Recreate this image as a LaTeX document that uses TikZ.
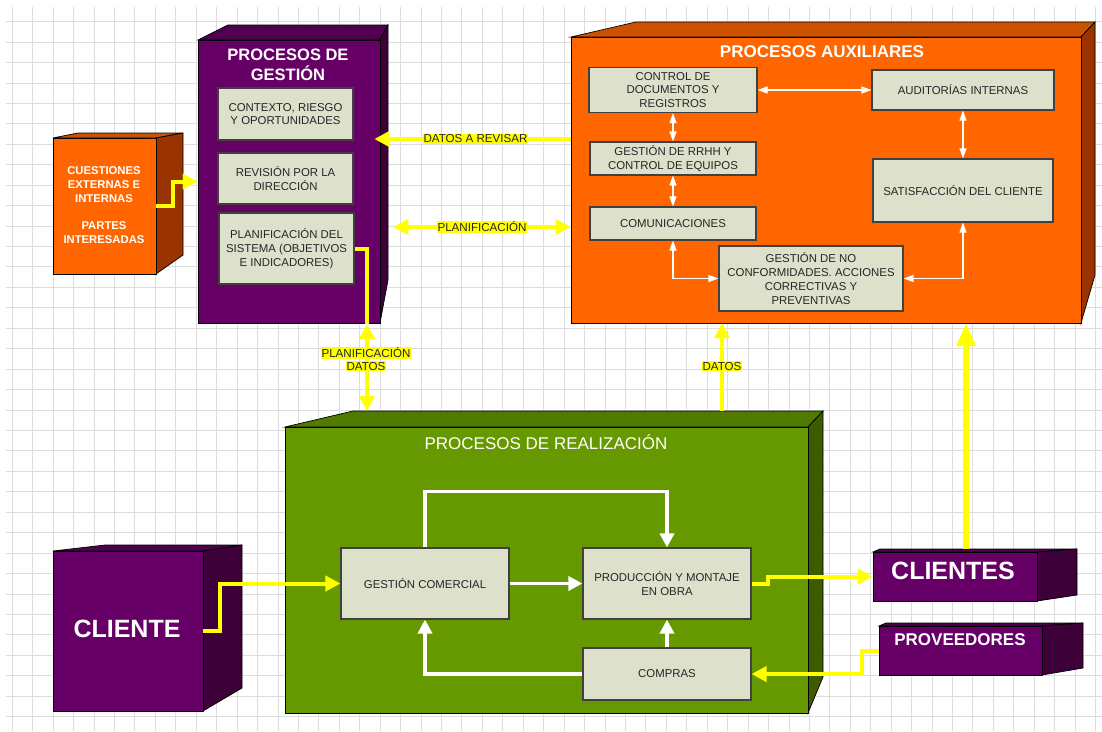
\documentclass[tikz,border=0pt]{standalone}
\usepackage{fontspec}
\setmainfont{Liberation Sans}
\usetikzlibrary{arrows.meta}
\usetikzlibrary{calc}

\definecolor{morado}{HTML}{660066}
\definecolor{moradotop}{HTML}{4F004F}
\definecolor{moradolado}{HTML}{3D0038}
\definecolor{naranja}{HTML}{FF6600}
\definecolor{naranjatop}{HTML}{CC5200}
\definecolor{naranjalado}{HTML}{993300}
\definecolor{verde}{HTML}{669900}
\definecolor{verdetop}{HTML}{507A00}
\definecolor{verdelado}{HTML}{3D5C00}
\definecolor{caja}{HTML}{DDE0CB}
\definecolor{amarillo}{HTML}{FFFF00}
\definecolor{rejilla}{HTML}{DDDDDD}

\tikzset{
  cara/.style={draw=black, line width=0.7pt},
  frente/.style={cara, rectangle, inner sep=0pt},
  proceso/.style={draw=black!75, line width=1.1pt, fill=caja, text=black!85, align=center,
    inner sep=1pt, font=\fontsize{11.4}{13.8}\selectfont},
  titulo/.style={text=white, align=center, font=\bfseries\fontsize{16.5}{20}\selectfont},
  amarilla/.style={draw=amarillo, line width=4pt},
  flecha/.style={amarilla, -{Triangle[length=15pt,width=15pt]}},
  flechadoble/.style={amarilla, {Triangle[length=15pt,width=15pt]}-{Triangle[length=15pt,width=15pt]}},
  blanca/.style={draw=white, line width=3.5pt, -{Triangle[length=14pt,width=14pt]}},
  finita/.style={draw=white, line width=1.2pt, {Triangle[length=10pt,width=7pt]}-{Triangle[length=10pt,width=7pt]}},
  etiqueta/.style={fill=amarillo, text=black!85, inner sep=0.8pt, font=\fontsize{11.6}{12}\selectfont},
}

\begin{document}
\begin{tikzpicture}[x=1pt,y=-1pt]
            \useasboundingbox (0,0) rectangle (1102,731);
            \fill[white] (0,0) rectangle (1102,731);

            % rejilla de fondo
            \foreach \i in {0,...,53}
                \draw[rejilla, line width=1pt] ({12.3+20.44*\i},7) -- ({12.3+20.44*\i},731);
            \foreach \j in {0,...,34}
                \draw[rejilla, line width=1pt] (6,{21.7+20.44*\j}) -- (1102,{21.7+20.44*\j});

            % cuestiones externas e internas
            \filldraw[cara, fill=naranjatop] (53,138) -- (78,133) -- (183,133) -- (156,138) -- cycle;
            \filldraw[cara, fill=naranjalado] (156,138) -- (183,133) -- (183,255) -- (156,274) -- cycle;
            \node[frente, fill=naranja, minimum width=103pt, minimum height=136pt] (cuestiones) at (104.5,206) {};
            \node[text=white, align=center, font=\bfseries\fontsize{11.3}{13.7}\selectfont] (tcuestiones) at (104,205)
                {CUESTIONES\\EXTERNAS E\\INTERNAS\\[13.7pt]PARTES\\INTERESADAS};

            % procesos de gestion
            \filldraw[cara, fill=moradotop] (198,40) -- (228,25) -- (388,25) -- (380,40) -- cycle;
            \filldraw[cara, fill=moradolado] (380,40) -- (388,25) -- (388,280) -- (380,323) -- cycle;
            \node[frente, fill=morado, minimum width=182pt, minimum height=283pt] (gestion) at (289,181.5) {};
            \node[titulo] (tgestion) at (288,65) {PROCESOS DE\\GESTIÓN};
            \node[proceso, minimum width=135pt, minimum height=52pt] (contexto) at (285.5,114) {CONTEXTO, RIESGO\\Y OPORTUNIDADES};
            \node[proceso, minimum width=135pt, minimum height=51pt] (revision) at (285.5,178.5) {REVISIÓN POR LA\\DIRECCIÓN};
            \node[proceso, minimum width=135pt, minimum height=71pt] (planif) at (286.5,248.5) {PLANIFICACIÓN DEL\\SISTEMA (OBJETIVOS\\E INDICADORES)};

            % procesos auxiliares
            \filldraw[cara, fill=naranjatop] (571,37) -- (636,22) -- (1095,22) -- (1081,37) -- cycle;
            \filldraw[cara, fill=naranjalado] (1081,37) -- (1095,22) -- (1095,275) -- (1081,323) -- cycle;
            \node[frente, fill=naranja, minimum width=510pt, minimum height=286pt] (aux) at (826,180) {};
            \node[titulo, font=\bfseries\fontsize{17}{20}\selectfont] (taux) at (822,52) {PROCESOS AUXILIARES};
            \node[proceso, minimum width=168pt, minimum height=45pt] (control) at (673,90) {CONTROL DE\\DOCUMENTOS Y\\REGISTROS};
            \node[proceso, minimum width=182pt, minimum height=40pt] (auditorias) at (963,90) {AUDITORÍAS INTERNAS};
            \node[proceso, minimum width=166pt, minimum height=33pt] (rrhh) at (673,158.5) {GESTIÓN DE RRHH Y\\CONTROL DE EQUIPOS};
            \node[proceso, minimum width=180pt, minimum height=63pt] (satisf) at (963,190.5) {SATISFACCIÓN DEL CLIENTE};
            \node[proceso, minimum width=166pt, minimum height=33pt] (comunic) at (673,223.5) {COMUNICACIONES};
            \node[proceso, minimum width=184pt, minimum height=65pt] (noconf) at (811,278.5) {GESTIÓN DE NO\\CONFORMIDADES. ACCIONES\\CORRECTIVAS Y\\PREVENTIVAS};

            \draw[finita] (control.east) -- (auditorias.west);
            \draw[finita] (control.south) -- (rrhh.north);
            \draw[finita] (rrhh.south) -- (comunic.north);
            \draw[finita] (auditorias.south) -- (satisf.north);
            \draw[finita] (comunic.south) |- (noconf.west);
            \draw[finita] (satisf.south) |- (noconf.east);

            % procesos de realizacion
            \filldraw[cara, fill=verdetop] (285,427) -- (353,411) -- (823,411) -- (808,427) -- cycle;
            \filldraw[cara, fill=verdelado] (808,427) -- (823,411) -- (823,677) -- (808,713) -- cycle;
            \node[frente, fill=verde, minimum width=523pt, minimum height=286pt] (real) at (546.5,570) {};
            \node[text=white, font=\fontsize{17}{20}\selectfont] (treal) at (546,442) {PROCESOS DE REALIZACIÓN};
            \node[proceso, minimum width=168pt, minimum height=71pt] (comercial) at (425,583.5) {GESTIÓN COMERCIAL};
            \node[proceso, minimum width=168pt, minimum height=71pt] (produccion) at (667,583.5) {PRODUCCIÓN Y MONTAJE\\EN OBRA};
            \node[proceso, minimum width=168pt, minimum height=52pt] (compras) at (667,674) {COMPRAS};

            \draw[blanca] (comercial.north) -- ++(0,-56) -| (produccion.north);
            \draw[blanca] (comercial.east) -- (produccion.west);
            \draw[blanca] (compras.north) -- (produccion.south);
            \draw[blanca] (compras.west) -| (comercial.south);

            % cliente, clientes y proveedores
            \filldraw[cara, fill=moradotop] (53,551) -- (105,545) -- (242,545) -- (203,551) -- cycle;
            \filldraw[cara, fill=moradolado] (203,551) -- (242,545) -- (242,688) -- (203,711) -- cycle;
            \node[frente, fill=morado, minimum width=150pt, minimum height=160pt] (cliente) at (128,631) {};
            \node[text=white, font=\bfseries\fontsize{25}{28}\selectfont] (tcliente) at (127,629) {CLIENTE};

            \filldraw[cara, fill=moradotop] (873,552) -- (880,549) -- (1077,549) -- (1037,552) -- cycle;
            \filldraw[cara, fill=moradolado] (1037,552) -- (1077,549) -- (1077,595) -- (1037,601) -- cycle;
            \node[frente, fill=morado, minimum width=164pt, minimum height=49pt] (clientes) at (955,576.5) {};
            \node[text=white, font=\bfseries\fontsize{25}{28}\selectfont] (tclientes) at (953,571) {CLIENTES};

            \filldraw[cara, fill=moradotop] (879,626) -- (886,623) -- (1083,623) -- (1042,626) -- cycle;
            \filldraw[cara, fill=moradolado] (1042,626) -- (1083,623) -- (1083,668) -- (1042,675) -- cycle;
            \node[frente, fill=morado, minimum width=163pt, minimum height=49pt] (proveedores) at (960.5,650.5) {};
            \node[text=white, font=\bfseries\fontsize{17}{20}\selectfont] (tproveedores) at (960,640) {PROVEEDORES};

            % flujos de datos
            \coordinate (plA) at (367,324);
            \coordinate (plB) at (367,411);
            \coordinate (daA) at (722,411);
            \coordinate (daB) at (722,323);
            \coordinate (clA) at (966,549);
            \coordinate (clB) at (966,323);

            \draw[flecha] (cuestiones.east) -- ++(17,0) |- (gestion.west);
            \draw[flecha, shorten >=-6pt] (aux.west |- 0,139) -- (gestion.east |- 0,139)
                node[etiqueta, midway] (trevisar) {DATOS A REVISAR};
            \draw[flechadoble] ($(gestion.east)+(13,45.5)$) -- (aux.west |- 0,227)
                node[etiqueta, midway] (tplanif) {PLANIFICACIÓN};
            \draw[amarilla] (planif.east) -| (plA);
            \draw[flechadoble] (plA) -- (plB);
            \node[etiqueta] (tplan2) at (366,353) {PLANIFICACIÓN};
            \node[etiqueta] (tdatos2) at (366,366) {DATOS};
            \draw[flecha] (daA) -- (daB) node[etiqueta, pos=0.51] (tdatos) {DATOS};
            \draw[flecha, line width=6pt, -{Triangle[length=23pt,width=18pt]}] (clA) -- (clB);

            \draw[flecha] (cliente.east) -- ++(17,0) |- (comercial.west);
            \draw[flecha] (produccion.east) -- ++(16,0) |- (clientes.west);
            \draw[flecha] (proveedores.west) -- ++(-17,0) |- (compras.east);
\end{tikzpicture}
\end{document}
